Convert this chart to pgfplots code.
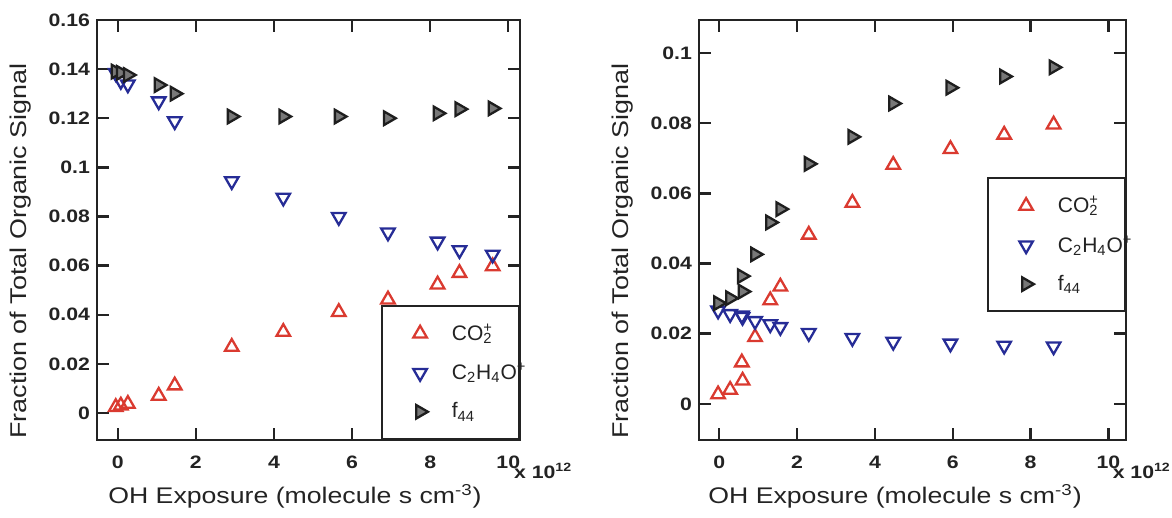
\documentclass[border=0pt]{standalone}
\usepackage{fontspec}
\setmainfont{Liberation Sans}[FakeStretch=1.18]
\newfontfamily\legfam{Liberation Sans}
\usepackage{pgfplots}
\pgfplotsset{compat=1.18}
\definecolor{cred}{RGB}{218,58,48}
\definecolor{cblue}{RGB}{38,44,150}
\definecolor{cgray}{RGB}{120,120,120}
\definecolor{cedge}{RGB}{30,30,30}
\definecolor{ctext}{RGB}{35,35,35}
\newcommand{\tickfont}{\fontsize{9}{10}\selectfont\bfseries}
\newcommand{\xlabfont}{\fontsize{11.3}{13}\selectfont}
\newcommand{\ylabfont}{\fontsize{11.4}{13}\selectfont}
\newcommand{\legfont}{\legfam\fontsize{10.5}{12}\selectfont}
\newcommand{\lt}[1]{\hspace*{10pt}\makebox[16pt][l]{#1}}
\pgfplotsset{
  myax/.style={
    scale only axis, height=210pt, clip mode=individual,
    axis line style={line width=1.2pt, color=ctext},
    tick align=inside, major tick length=6pt,
    every tick/.style={line width=1.2pt, color=ctext},
    xtick={0,2,4,6,8,10}, xticklabels={0,2,4,6,8,10},
    tick label style={font=\tickfont, color=ctext},
    xticklabel style={yshift=-4.5pt},
    xlabel={OH Exposure (molecule s cm\textsuperscript{-3})},
    ylabel={Fraction of Total Organic Signal},
    every axis y label/.style={at={([xshift=-38pt]axis description cs:0,0.45)}, rotate=90, anchor=center, font=\ylabfont, text=ctext},
    legend cell align=left,
    legend style={draw=ctext, line width=1.1pt, font=\legfont, text=ctext,
      inner xsep=15.5pt, inner ysep=7pt, row sep=6pt},
  },
  co2/.style={only marks, mark=triangle, mark size=3.9pt, color=cred, mark options={line width=1.15pt}},
  c2h/.style={only marks, mark=triangle, mark size=3.9pt, color=cblue, mark options={rotate=180, line width=1.15pt}},
  f44/.style={only marks, mark=triangle*, mark size=3.9pt, color=cedge, mark options={rotate=-90, fill=cgray, draw=cedge, line width=1.15pt}},
}
\begin{document}
\begin{tikzpicture}
\useasboundingbox (0,0) rectangle (586pt,259pt);
\begin{axis}[myax, at={(48.5pt,39pt)}, anchor=south west, width=211.5pt,
  xmin=-0.53, xmax=10.3, ymin=-0.011, ymax=0.16,
  ytick={0,0.02,0.04,0.06,0.08,0.1,0.12,0.14,0.16},
  yticklabels={0,0.02,0.04,0.06,0.08,0.1,0.12,0.14,0.16},
  every axis x label/.style={at={([yshift=-28pt]axis description cs:0.468,0)}, anchor=center, font=\xlabfont, text=ctext},
  legend style={at={(rel axis cs:1,0)}, anchor=south east}]
\addplot[co2] coordinates {(-0.05,0.0024) (0.08,0.0030) (0.26,0.0037) (1.05,0.0070) (1.46,0.0112) (2.92,0.0269) (4.24,0.0330) (5.66,0.0411) (6.92,0.0462) (8.19,0.0523) (8.75,0.0570) (9.6,0.0597)};
\addlegendentry{\lt{CO\rlap{\textsuperscript{+}}\textsubscript{2}}}
\addplot[c2h] coordinates {(-0.05,0.1384) (0.08,0.1352) (0.26,0.1338) (1.05,0.1269) (1.46,0.1188) (2.92,0.0944) (4.24,0.0877) (5.66,0.0798) (6.92,0.0735) (8.19,0.0698) (8.75,0.0663) (9.6,0.0645)};
\addlegendentry{\lt{C\textsubscript{2}H\textsubscript{4}O\textsuperscript{+}}}
\addplot[f44] coordinates {(-0.05,0.1390) (0.08,0.1385) (0.26,0.1376) (1.05,0.1335) (1.46,0.1300) (2.92,0.1207) (4.24,0.1207) (5.66,0.1207) (6.92,0.1200) (8.19,0.1220) (8.75,0.1237) (9.6,0.1240)};
\addlegendentry{\lt{f\textsubscript{44}}}
\node[anchor=base west, font=\tickfont, text=ctext, inner sep=0pt] at ([yshift=-19.5pt]rel axis cs:0.985,0) {x 10\textsuperscript{12}};
\end{axis}
\begin{axis}[myax, at={(349.5pt,39pt)}, anchor=south west, width=213.5pt,
  xmin=-0.52, xmax=10.45, ymin=-0.0103, ymax=0.1094,
  ytick={0,0.02,0.04,0.06,0.08,0.1},
  yticklabels={0,0.02,0.04,0.06,0.08,0.1},
  every axis x label/.style={at={([yshift=-28pt]axis description cs:0.459,0)}, anchor=center, font=\xlabfont, text=ctext},
  legend style={at={(rel axis cs:1,0.626)}, anchor=north east}]
\addplot[co2] coordinates {(-0.03,0.0027) (0.28,0.0040) (0.6,0.0066) (0.58,0.0118) (0.92,0.0190) (1.31,0.0295) (1.57,0.0334) (2.3,0.0482) (3.42,0.0573) (4.47,0.0681) (5.94,0.0726) (7.32,0.0767) (8.59,0.0796)};
\addlegendentry{\lt{CO\rlap{\textsuperscript{+}}\textsubscript{2}}}
\addplot[c2h] coordinates {(-0.03,0.0266) (0.28,0.0256) (0.6,0.0248) (0.58,0.0252) (0.92,0.0236) (1.31,0.0227) (1.57,0.0219) (2.3,0.0202) (3.42,0.0188) (4.47,0.0177) (5.94,0.0172) (7.32,0.0166) (8.59,0.0164)};
\addlegendentry{\lt{C\textsubscript{2}H\textsubscript{4}O\textsuperscript{+}}}
\addplot[f44] coordinates {(-0.03,0.0287) (0.28,0.0301) (0.6,0.0320) (0.58,0.0364) (0.92,0.0426) (1.31,0.0517) (1.57,0.0555) (2.3,0.0684) (3.42,0.0761) (4.47,0.0856) (5.94,0.0901) (7.32,0.0933) (8.59,0.0959)};
\addlegendentry{\lt{f\textsubscript{44}}}
\node[anchor=base west, font=\tickfont, text=ctext, inner sep=0pt] at ([yshift=-19.5pt]rel axis cs:0.968,0) {x 10\textsuperscript{12}};
\end{axis}
\end{tikzpicture}
\end{document}
